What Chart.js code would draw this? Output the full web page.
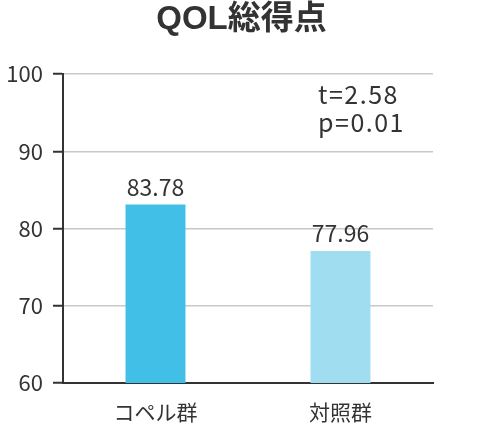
<!DOCTYPE html>
<html>
<head>
<meta charset="utf-8">
<script src="https://cdn.jsdelivr.net/npm/chart.js@4"></script>
<style>
  html, body { margin: 0; padding: 0; background: #fff; }
  #wrap { width: 490px; height: 430px; }
</style>
</head>
<body>
<div id="wrap"><canvas id="qolChart" width="490" height="430"></canvas></div>
<script>
const chartTitle = 'QOL総得点';
const categories = ['コペル群', '対照群'];
// bar heights as drawn in the picture, and the labels printed above them
const barValues = [83.1, 77.1];
const valueLabels = ['83.78', '77.96'];
const statLines = ['t=2.58', 'p=0.01'];
const yMin = 60;
const yMax = 100;
const yStep = 10;

const FONT = '"Noto Sans CJK JP", "Noto Sans", sans-serif';
const TEXT = '#333333';

// numbers above each bar + the t / p note
const labelPlugin = {
  id: 'labelPlugin',
  afterDatasetsDraw(chart) {
    const ctx = chart.ctx;
    const meta = chart.getDatasetMeta(0);
    ctx.save();
    ctx.fillStyle = TEXT;
    ctx.font = '23px ' + FONT;
    ctx.textAlign = 'center';
    ctx.textBaseline = 'bottom';
    meta.data.forEach((bar, i) => {
      ctx.fillText(valueLabels[i], bar.x, bar.y - 6);
    });

    const area = chart.chartArea;
    ctx.font = '25px ' + FONT;
    ctx.letterSpacing = '1.5px';
    ctx.textAlign = 'left';
    ctx.textBaseline = 'middle';
    statLines.forEach((line, i) => {
      ctx.fillText(line, area.right - 115, area.top + 20 + i * 28);
    });
    ctx.restore();
  }
};

const ctx = document.getElementById('qolChart').getContext('2d');

const qolChart = new Chart(ctx, {
  type: 'bar',
  data: {
    labels: categories,
    datasets: [{
      data: barValues,
      backgroundColor: ['#41bfe7', '#a1ddf1'],
      borderWidth: 0,
      barPercentage: 0.324,
      categoryPercentage: 1
    }]
  },
  options: {
    responsive: false,
    animation: false,
    layout: {
      padding: { left: 0, right: 7, top: 0, bottom: 0 }
    },
    plugins: {
      legend: { display: false },
      tooltip: { enabled: false },
      title: {
        display: true,
        text: chartTitle,
        color: TEXT,
        font: { family: '"Liberation Sans", ' + FONT, size: 33, weight: 'bold' },
        padding: { top: 0, bottom: 34.4 }
      }
    },
    scales: {
      x: {
        grid: { display: false, drawTicks: false },
        border: { color: '#333', width: 2 },
        ticks: {
          color: TEXT,
          font: { family: FONT, size: 21 },
          padding: 16
        },
        afterFit(scale) { scale.height = 47; }
      },
      y: {
        min: yMin,
        max: yMax,
        grid: {
          color: '#c8c8c8',
          lineWidth: 1.5,
          tickColor: '#333',
          tickWidth: 2,
          tickLength: 10
        },
        border: { color: '#333', width: 2 },
        ticks: {
          stepSize: yStep,
          color: TEXT,
          font: { family: FONT, size: 22 },
          padding: 10
        },
        afterFit(scale) { scale.width = 63; }
      },
      // empty right-hand gutter so the title centres over the whole canvas
      gutter: {
        type: 'linear',
        position: 'right',
        grid: { display: false, drawTicks: false },
        border: { display: false },
        ticks: { display: false },
        afterFit(scale) { scale.width = 50; }
      }
    }
  },
  plugins: [labelPlugin]
});
</script>
</body>
</html>
